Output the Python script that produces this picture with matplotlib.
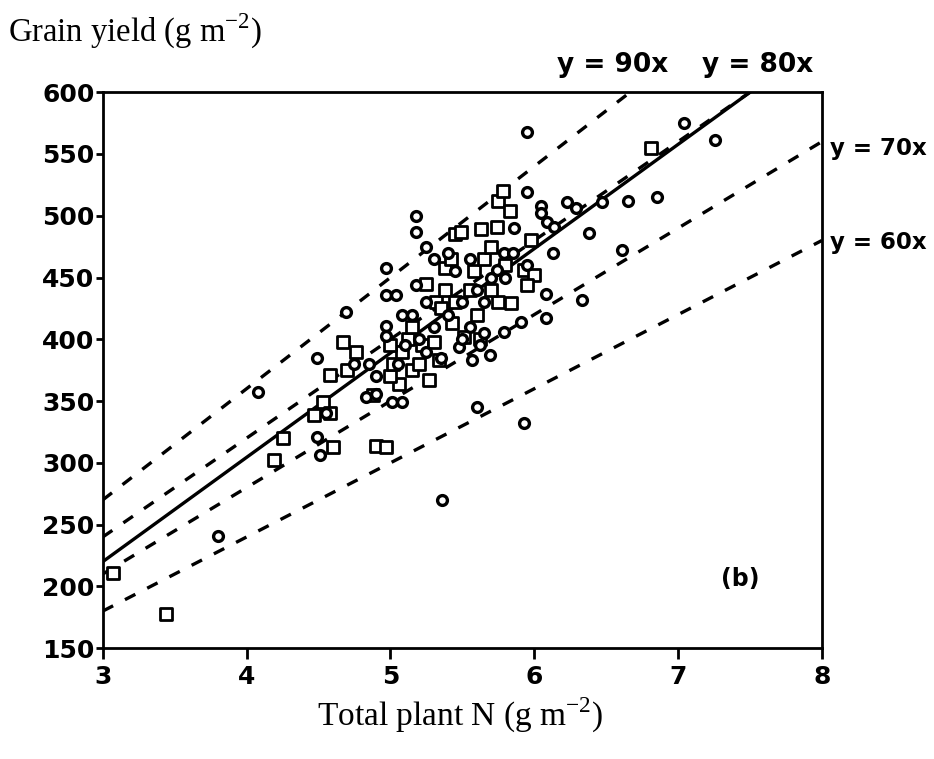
import matplotlib
matplotlib.use("Agg")
import matplotlib.pyplot as plt
import numpy as np

# open circles (x = total plant N, y = grain yield)
circ_x = [3.80, 4.08, 4.49, 4.49, 4.51, 4.69, 4.97, 4.97, 5.04, 5.08, 4.97, 4.97,
          5.18, 5.18, 5.18, 4.83, 4.90, 5.01, 5.08, 5.36, 5.60, 5.93, 5.95, 5.95,
          6.05, 6.23, 6.29, 6.47, 6.65, 6.85, 7.04, 7.26, 6.61, 6.13, 6.38, 6.09,
          6.14, 6.33, 6.08, 6.08, 5.91, 5.79, 5.69, 5.57, 5.48, 5.35, 5.86, 6.05,
          5.74, 5.79, 5.25, 5.30, 5.40, 5.45, 5.55, 5.60, 5.65, 5.70, 5.50, 5.40,
          5.30, 5.25, 5.20, 5.10, 5.05, 4.90, 4.85, 5.15, 5.55, 5.62, 5.50, 5.65,
          5.80, 5.85, 5.95, 5.25, 4.75, 4.55]
circ_y = [241, 357, 385, 321, 306, 422, 458, 436, 436, 420, 411, 403,
          500, 487, 444, 353, 356, 349, 349, 270, 345, 332, 568, 519,
          508, 511, 506, 511, 512, 515, 575, 561, 472, 470, 486, 495,
          491, 432, 437, 417, 414, 406, 387, 383, 394, 385, 490, 502,
          456, 470, 475, 465, 470, 455, 465, 440, 430, 450, 430, 420,
          410, 430, 400, 395, 380, 370, 380, 420, 410, 395, 400, 405,
          450, 470, 460, 390, 380, 340]

# open squares
sq_x = [3.07, 3.44, 4.19, 4.25, 4.47, 4.53, 4.58, 4.58, 4.67, 4.70, 4.76, 4.60,
        4.90, 4.97, 5.06, 5.27, 5.34, 4.88, 5.00, 5.02, 5.08, 5.12, 5.15, 5.20,
        5.22, 5.30, 5.32, 5.38, 5.38, 5.42, 5.45, 5.49, 5.55, 5.58, 5.60, 5.63,
        5.65, 5.70, 5.74, 5.75, 5.78, 5.83, 5.93, 5.98, 6.00, 5.84, 5.95, 5.51,
        5.43, 5.62, 5.75, 5.80, 5.70, 5.45, 5.35, 5.25, 5.15, 5.00, 6.81]
sq_y = [211, 178, 302, 320, 339, 349, 340, 371, 398, 375, 390, 313,
        314, 313, 364, 367, 383, 355, 370, 380, 390, 400, 375, 380,
        395, 398, 430, 440, 458, 465, 485, 487, 440, 455, 420, 489,
        465, 475, 491, 512, 520, 504, 456, 480, 452, 429, 444, 402,
        413, 400, 430, 460, 440, 430, 425, 445, 410, 395, 555]

# reference lines y = k*x and fitted line (end points)
ref_slopes = [90, 80, 70, 60]
fit_x = [3.0, 7.5]
fit_y = [220, 600]

fig = plt.figure(figsize=(9.34, 7.59), dpi=100)
ax = fig.add_axes([0.110, 0.146, 0.770, 0.7325])

num_font = ['DejaVu Sans']
serif_font = ['Liberation Serif', 'DejaVu Serif']

for k in ref_slopes:
    x_end = min(8.0, 600.0 / k)
    xs = np.array([3.0, x_end])
    ax.plot(xs, k * xs, color='black', lw=2.4, dashes=(3.5, 4))
ax.plot(fit_x, fit_y, color='black', lw=2.4)

ax.scatter(sq_x, sq_y, marker='s', s=85, facecolors='white',
           edgecolors='black', linewidths=2.0, zorder=3)
ax.scatter(circ_x, circ_y, marker='o', s=50, facecolors='white',
           edgecolors='black', linewidths=2.4, zorder=3)

ax.set_xlim(3, 8)
ax.set_ylim(150, 600)
ax.set_xticks([3, 4, 5, 6, 7, 8])
ax.set_yticks(range(150, 601, 50))
ax.tick_params(axis='both', direction='out', length=8, width=2,
               labelsize=18, pad=4)
ax.tick_params(axis='y', length=5, pad=1)
for lab in ax.get_xticklabels() + ax.get_yticklabels():
    lab.set_family(num_font)
    lab.set_fontweight('bold')
for sp in ax.spines.values():
    sp.set_linewidth(2)

ax.text(7.43, 206, '(b)', fontsize=17, family=num_font, fontweight='bold',
        ha='center', va='center')

fig.text(0.009, 0.958, 'Grain yield (g m$^{\\mathregular{-2}}$)', fontsize=23.5,
         family=serif_font, ha='left', va='center')
fig.text(0.493, 0.057, 'Total plant N (g m$^{\\mathregular{-2}}$)', fontsize=24,
         family=serif_font, ha='center', va='center')

lab_kw = dict(family=num_font, fontweight='bold', va='center')
fig.text(0.596, 0.915, 'y = 90x', ha='left', fontsize=19, **lab_kw)
fig.text(0.752, 0.915, 'y = 80x', ha='left', fontsize=19, **lab_kw)
fig.text(0.889, 0.805, 'y = 70x', ha='left', fontsize=16.5, **lab_kw)
fig.text(0.889, 0.680, 'y = 60x', ha='left', fontsize=16.5, **lab_kw)

fig.savefig('out.png', dpi=100)
